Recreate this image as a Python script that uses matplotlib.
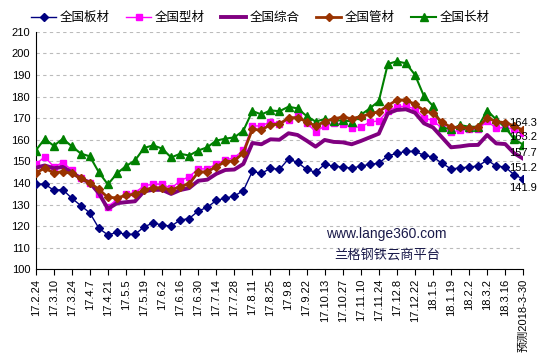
import numpy as np
import matplotlib
matplotlib.use("Agg")
import matplotlib.pyplot as plt

plt.rcParams["font.family"] = ["Liberation Sans", "Noto Sans CJK SC", "DejaVu Sans"]

# ============================================================
# DATA (weekly price index)
# ============================================================

date_labels = [
    "17.2.24", "17.3.10", "17.3.24", "17.4.7", "17.4.21", "17.5.5", "17.5.19",
    "17.6.2", "17.6.16", "17.6.30", "17.7.14", "17.7.28", "17.8.11", "17.8.25",
    "17.9.8", "17.9.22", "17.10.13", "17.10.27", "17.11.10", "17.11.24",
    "17.12.8", "17.12.22", "18.1.5", "18.1.19", "18.2.2", "18.3.2", "18.3.16",
    "预测2018-3-30",
]

plate = [
    139.5, 139.5, 136.6, 136.9, 132.9, 129.5, 126.1, 119.0, 115.9, 117.1,
    116.2, 116.2, 119.6, 121.5, 120.5, 120.0, 122.8, 123.5, 127.0, 128.7,
    131.9, 132.9, 134.0, 136.4, 145.4, 144.4, 146.8, 146.3, 151.1, 149.5,
    146.3, 144.9, 148.6, 147.8, 147.4, 146.8, 147.8, 148.6, 149.1, 152.5,
    153.7, 154.6, 154.6, 152.8, 152.0, 149.1, 146.5, 146.9, 147.4, 147.8,
    150.6, 147.8, 147.4, 143.7, 141.9,
]

section = [
    148.6, 152.1, 147.5, 149.4, 146.0, 142.1, 139.8, 134.9, 129.0, 132.3,
    134.8, 135.5, 138.7, 139.4, 139.4, 137.5, 141.0, 142.9, 146.5, 146.5,
    148.8, 150.6, 151.7, 155.2, 166.4, 166.4, 168.4, 167.4, 169.1, 171.3,
    167.9, 163.7, 166.4, 167.6, 167.3, 165.6, 166.0, 168.1, 168.8, 173.3,
    175.2, 175.6, 174.2, 170.2, 168.8, 165.3, 163.4, 164.5, 164.8, 164.8,
    168.7, 165.3, 165.7, 164.8, 163.2,
]

composite = [
    147.0, 148.1, 146.8, 147.4, 144.9, 142.1, 140.1, 135.2, 128.0, 130.6,
    131.1, 131.5, 136.1, 136.8, 136.8, 134.9, 136.7, 137.6, 141.0, 141.5,
    144.2, 146.0, 146.2, 148.8, 158.5, 157.9, 160.2, 160.0, 163.0, 162.2,
    159.6, 156.8, 159.9, 159.0, 158.8, 157.9, 159.4, 161.1, 162.8, 172.2,
    173.8, 174.1, 172.5, 167.6, 165.7, 161.1, 156.5, 156.9, 157.5, 157.6,
    162.2, 158.3, 158.0, 153.7, 151.2,
]

pipe = [
    144.7, 146.8, 144.7, 145.2, 144.4, 142.1, 140.1, 137.0, 133.3, 133.1,
    134.2, 134.8, 136.7, 137.8, 137.8, 136.7, 138.3, 139.5, 145.0, 145.2,
    147.5, 149.9, 150.2, 154.0, 164.8, 164.5, 167.0, 167.2, 170.2, 170.2,
    168.4, 166.4, 168.4, 169.8, 170.4, 169.8, 170.7, 171.9, 173.0, 175.8,
    178.4, 178.4, 176.4, 173.5, 172.2, 168.2, 165.7, 165.8, 165.3, 165.7,
    170.2, 168.4, 167.9, 166.4, 164.3,
]

long_steel = [
    155.0, 160.4, 157.2, 160.4, 157.0, 153.6, 152.3, 144.9, 139.3, 144.4,
    147.8, 150.4, 156.2, 157.4, 155.9, 151.8, 153.5, 152.7, 155.0, 156.5,
    159.6, 160.5, 161.1, 164.2, 173.3, 171.7, 173.6, 173.2, 175.3, 174.5,
    171.0, 168.4, 169.6, 168.7, 169.1, 168.4, 171.5, 174.5, 177.9, 195.1,
    196.3, 195.4, 190.1, 180.2, 175.6, 165.7, 164.8, 166.8, 166.0, 166.0,
    173.5, 169.4, 165.7, 160.2, 157.7,
]

# last-value labels: (value, vertical offset in data units)
end_labels = [
    (pipe[-1], 3.3),
    (section[-1], -1.8),
    (long_steel[-1], -4.0),
    (composite[-1], -4.4),
    (plate[-1], -4.1),
]

x = np.arange(len(plate))

# ============================================================
# PLOT
# ============================================================

fig = plt.figure(figsize=(5.43, 3.61), dpi=100)
ax = fig.add_axes([0.0657, 0.254, 0.898, 0.658])

ax.plot(x, plate, color="#000080", linewidth=1.0, marker="D",
        markersize=4.0, label="全国板材", zorder=3)
ax.plot(x, section, color="#FF00FF", linewidth=1.0, marker="s",
        markersize=5.0, label="全国型材", zorder=3)
ax.plot(x, composite, color="#800080", linewidth=2.8, label="全国综合", zorder=4)
ax.plot(x, pipe, color="#993300", linewidth=2.0, marker="D",
        markersize=3.6, label="全国管材", zorder=5)
ax.plot(x, long_steel, color="#008000", linewidth=1.5, marker="^",
        markersize=5.3, label="全国长材", zorder=3)

for val, off in end_labels:
    ax.text(x[-1], val + off, f"{val:.1f}", ha="center", va="center",
            fontsize=8, color="black", zorder=6, clip_on=False)

ax.set_xlim(0, len(plate) - 1)
ax.set_ylim(100, 210)
ax.set_yticks(np.arange(100, 211, 10))
ax.set_xticks(x[::2])
ax.set_xticklabels(date_labels, rotation=90, fontsize=8,
                   family=["Liberation Sans", "Noto Sans CJK SC"])
ax.tick_params(axis="y", labelsize=8, length=0, pad=4)
ax.tick_params(axis="x", direction="out", length=4, width=0.8, pad=3)

ax.grid(axis="y", linestyle=(0, (3, 3)), color="#BBBBBB", linewidth=0.8)
ax.set_axisbelow(True)
for s in ["top", "right"]:
    ax.spines[s].set_visible(False)
ax.spines["left"].set_color("black")
ax.spines["bottom"].set_color("black")

ax.text(0.72, 0.149, "www.lange360.com", transform=ax.transAxes,
        ha="center", va="center", fontsize=10, color="#1A1A4A")
ax.text(0.72, 0.054, "兰格钢铁云商平台", transform=ax.transAxes,
        ha="center", va="center", fontsize=9.5, color="#1A1A4A",
        family=["Noto Sans CJK SC", "DejaVu Sans"])

fig.legend(loc="upper center", bbox_to_anchor=(0.48, 1.0), ncol=5,
           frameon=False, handlelength=2.0, handletextpad=0.3,
           columnspacing=1.3, numpoints=1,
           prop={"family": ["Noto Sans CJK SC", "DejaVu Sans"], "size": 9})

fig.savefig("out.png", dpi=100)
